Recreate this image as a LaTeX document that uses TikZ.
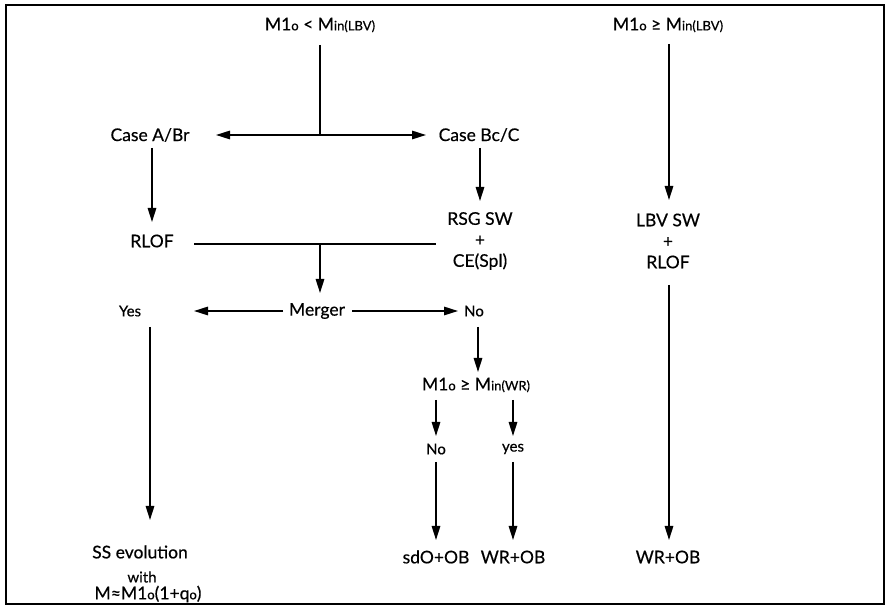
\documentclass[tikz,border=0pt]{standalone}
\usepackage{fontspec}
\setmainfont{Lato}[FakeBold=0.4]
\usetikzlibrary{arrows.meta}
\newcommand{\Mone}{M1{\fontsize{13}{14}\selectfont o}}
\newcommand{\Minn}[1]{M{\fontsize{13}{14}\selectfont in(#1)}}
\begin{document}
\begin{tikzpicture}[x=1pt,y=-1pt,
  lbl/.style={font=\fontsize{17.5}{21}\selectfont, inner sep=0pt, align=center},
  sml/.style={font=\fontsize{15}{17}\selectfont, inner sep=0pt, align=center},
  arr/.style={line width=1.5pt, -{Triangle[length=14pt,width=8.5pt]}},
  ln/.style={line width=1.5pt}]
\useasboundingbox (0,0) rectangle (887,609);
\draw[line width=2.5pt] (6,5) rectangle (884,604);

% texts
\node[lbl] (t1) at (320,25) {\Mone\ < \Minn{LBV}};
\node[lbl] (t2) at (668,25) {\Mone\ ≥ \Minn{LBV}};
\node[lbl] (ca) at (150,135) {Case A/Br};
\node[lbl] (cb) at (479,135) {Case Bc/C};
\node[lbl] (rl) at (152,241) {RLOF};
\node[lbl] (rsg) at (480,241) {RSG SW\\+\\CE(Spl)};
\node[lbl] (mg) at (317,311) {Merger};
\node[sml] (ys) at (130,311) {Yes};
\node[sml] (no) at (474,311) {No};
\node[lbl] (ss) at (140,552) {SS evolution};
\node[sml] (wi) at (142,577) {with};
\node[lbl] (mf) at (148,594) {M≈\Mone(1+q{\fontsize{13}{14}\selectfont o})};
\node[lbl] (wc) at (476,385) {\Mone\ ≥ \Minn{WR}};
\node[sml] (n2) at (436,449) {No};
\node[sml] (y2) at (513,449) {yes};
\node[lbl] (sd) at (436,557) {sdO+OB};
\node[lbl] (wr1) at (513,557) {WR+OB};
\node[lbl] (lbv) at (668,241) {LBV SW\\+\\RLOF};
\node[lbl] (wr2) at (668,557) {WR+OB};

% connector end points
\coordinate (t1b) at (320,45);
\coordinate (j1) at (320,135);
\coordinate (caE) at (216,135);
\coordinate (cbW) at (426,135);
\coordinate (caS) at (152,148);
\coordinate (rlN) at (152,222);
\coordinate (cbS) at (480,148);
\coordinate (rsgN) at (480,201);
\coordinate (rlE) at (194,244);
\coordinate (rsgW) at (436,244);
\coordinate (j2) at (320,244);
\coordinate (mgN) at (320,293);
\coordinate (mgW) at (283,311);
\coordinate (ysE) at (194,311);
\coordinate (mgE) at (352,311);
\coordinate (noW) at (458,311);
\coordinate (ysS) at (150,327);
\coordinate (ssN) at (150,520);
\coordinate (noS) at (478,327);
\coordinate (wcN) at (478,372);
\coordinate (wcL) at (436,400);
\coordinate (n2N) at (436,436);
\coordinate (wcR) at (513,400);
\coordinate (y2N) at (513,436);
\coordinate (n2S) at (436,462);
\coordinate (sdN) at (436,540);
\coordinate (y2S) at (513,462);
\coordinate (wr1N) at (513,540);
\coordinate (t2b) at (669,44);
\coordinate (lbvN) at (669,200);
\coordinate (lbvS) at (669,285);
\coordinate (wr2N) at (669,540);

% connectors
\draw[ln] (t1b) -- (j1);
\draw[arr] (j1) -- (caE);
\draw[arr] (j1) -- (cbW);
\draw[arr] (caS) -- (rlN);
\draw[arr] (cbS) -- (rsgN);
\draw[ln] (rlE) -- (rsgW);
\draw[arr] (j2) -- (mgN);
\draw[arr] (mgW) -- (ysE);
\draw[arr] (mgE) -- (noW);
\draw[arr] (ysS) -- (ssN);
\draw[arr] (noS) -- (wcN);
\draw[arr] (wcL) -- (n2N);
\draw[arr] (wcR) -- (y2N);
\draw[arr] (n2S) -- (sdN);
\draw[arr] (y2S) -- (wr1N);
\draw[arr] (t2b) -- (lbvN);
\draw[arr] (lbvS) -- (wr2N);
\end{tikzpicture}
\end{document}
